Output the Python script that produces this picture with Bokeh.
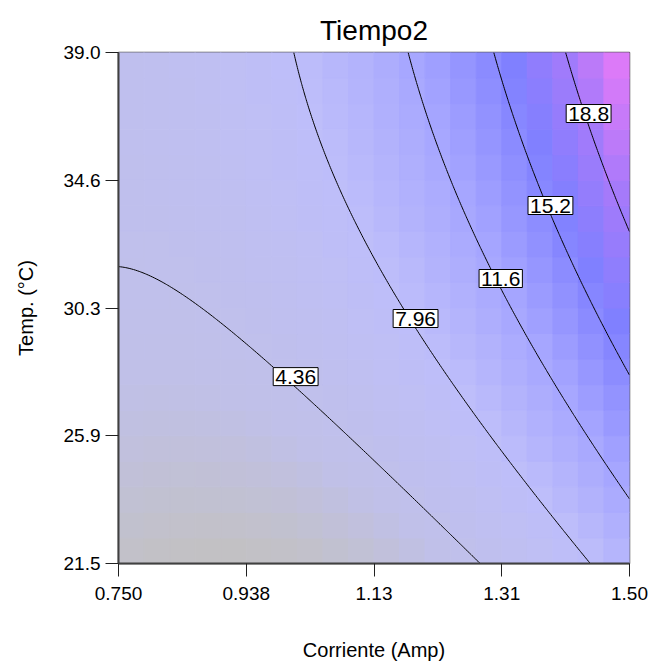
import numpy as np
from bokeh.plotting import figure
from bokeh.models import FixedTicker, Label
from bokeh.embed import file_html
from bokeh.resources import INLINE

# Factor ranges and axis ticks
current_range = (0.75, 1.50)
temp_range = (21.5, 39.0)
x_ticks = [0.75, 0.9375, 1.125, 1.3125, 1.5]
x_tick_labels = ["0.750", "0.938", "1.13", "1.31", "1.50"]
y_ticks = [21.5, 25.875, 30.25, 34.625, 39.0]
y_tick_labels = ["21.5", "25.9", "30.3", "34.6", "39.0"]

# Contour levels of the response
levels = [4.36, 7.96, 11.6, 15.2, 18.8]

# Quadratic model of Tiempo2 in coded factors
# (intercept, A, B, AB, A^2, B^2) with A = Corriente, B = Temp.
coef = [7.185, 6.438, 4.155, 2.295, 3.337, -0.967]

def response(A, B):
    return (coef[0] + coef[1] * A + coef[2] * B + coef[3] * A * B
            + coef[4] * A ** 2 + coef[5] * B ** 2)

# Contour label anchors (Corriente, Temp)
label_current = [1.010, 1.186, 1.311, 1.384, 1.440]
label_temp = [27.90, 29.89, 31.26, 33.76, 36.91]
label_text = ["4.36", "7.96", "11.6", "15.2", "18.8"]

# Colour stops for the shaded cells: value -> RGB
stop_value = [1.0, 3.5, 8.0, 12.0, 16.0, 19.0, 22.0]
stop_r = [194, 192, 190, 165, 128, 165, 232]
stop_g = [193, 192, 190, 165, 128, 122, 122]
stop_b = [196, 232, 250, 255, 255, 250, 248]

def to_coded(x, lo, hi):
    return (x - (lo + hi) / 2) / ((hi - lo) / 2)

FONT = "Liberation Sans"

p = figure(width=649, height=670, frame_width=511, frame_height=511,
           x_range=current_range, y_range=temp_range,
           output_backend="svg", toolbar_location=None,
           min_border_left=118, min_border_right=20,
           min_border_top=52, min_border_bottom=107,
           background_fill_color="white", border_fill_color="white")

# Shaded 20 x 20 cells
n = 20
dx = (current_range[1] - current_range[0]) / n
dy = (temp_range[1] - temp_range[0]) / n
left, right, bottom, top, colors = [], [], [], [], []
for i in range(n):
    for j in range(n):
        xc = current_range[0] + (i + 0.5) * dx
        yc = temp_range[0] + (j + 0.5) * dy
        v = response(to_coded(xc, *current_range), to_coded(yc, *temp_range))
        r = int(round(np.interp(v, stop_value, stop_r)))
        g = int(round(np.interp(v, stop_value, stop_g)))
        b = int(round(np.interp(v, stop_value, stop_b)))
        left.append(xc - dx / 2); right.append(xc + dx / 2)
        bottom.append(yc - dy / 2); top.append(yc + dy / 2)
        colors.append("#%02x%02x%02x" % (r, g, b))
p.quad(left=left, right=right, bottom=bottom, top=top,
       fill_color=colors, line_color=colors, line_width=1)

# Contour lines on a fine grid
gx = np.linspace(*current_range, 241)
gy = np.linspace(*temp_range, 241)
GX, GY = np.meshgrid(gx, gy)
Z = response(to_coded(GX, *current_range), to_coded(GY, *temp_range))
p.contour(gx, gy, Z, levels, line_color="black", line_width=1, fill_color=None)

for cx, cy, t in zip(label_current, label_temp, label_text):
    p.add_layout(Label(x=cx, y=cy, text=t, text_align="center",
                       text_baseline="middle", text_font=FONT,
                       text_font_size="21px", text_color="black",
                       background_fill_color="white",
                       border_line_color="black", border_line_width=1,
                       padding=2))

# Title and axes
p.title.text = "Tiempo2"
p.title.align = "center"
p.title.text_font = FONT
p.title.text_font_size = "28px"
p.title.text_font_style = "normal"
p.title.text_color = "black"
p.title.standoff = 14

p.xaxis.axis_label = "Corriente (Amp)"
p.yaxis.axis_label = "Temp. (°C)"
p.xaxis.ticker = FixedTicker(ticks=x_ticks)
p.yaxis.ticker = FixedTicker(ticks=y_ticks)
p.xaxis.major_label_overrides = dict(zip(x_ticks, x_tick_labels))
p.yaxis.major_label_overrides = dict(zip(y_ticks, y_tick_labels))
for ax in (p.xaxis[0], p.yaxis[0]):
    ax.axis_label_text_font = FONT
    ax.axis_label_text_font_size = "20px"
    ax.axis_label_text_font_style = "normal"
    ax.axis_label_text_color = "black"
    ax.major_label_text_font = FONT
    ax.major_label_text_font_size = "19px"
    ax.major_label_text_color = "black"
    ax.major_tick_out = 13
    ax.major_tick_in = 0
    ax.minor_tick_out = 0
    ax.minor_tick_in = 0
    ax.axis_line_color = "#404040"
    ax.axis_line_width = 2
    ax.major_tick_line_color = "#202020"
p.xaxis.major_label_standoff = 10
p.xaxis.axis_label_standoff = 36
p.yaxis.major_label_standoff = 5
p.yaxis.axis_label_standoff = 24
p.yaxis.major_label_orientation = "horizontal"

p.xgrid.visible = False
p.ygrid.visible = False
p.outline_line_color = "#555555"
p.outline_line_width = 1.5

open("out.html", "w").write(file_html(p, INLINE))
